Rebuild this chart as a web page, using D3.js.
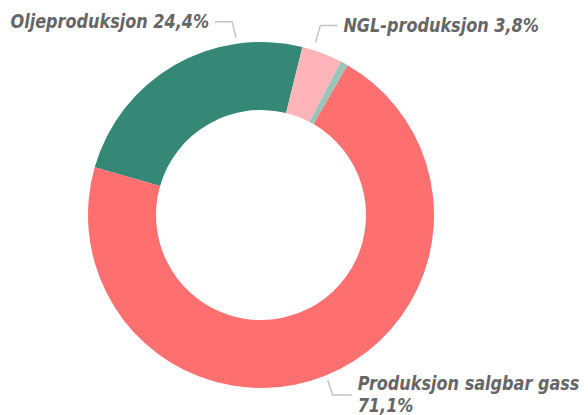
<!DOCTYPE html>
<html>
<head>
<meta charset="utf-8">
<script src="https://cdn.jsdelivr.net/npm/d3@7"></script>
<style>
  html, body { margin: 0; padding: 0; background: #fff; }
  .etikett { font-family: "DejaVu Sans Condensed", "DejaVu Sans", sans-serif; font-weight: bold; font-style: italic; font-size: 19px; fill: #666666; }
</style>
</head>
<body>
<div id="Grafica1"></div>
<script>
// data
const kategorier = ["Oljeproduksjon", "NGL-produksjon", "Kondensat", "Produksjon salgbar gass"];
const andeler = [24.4, 3.8, 0.7, 71.1];
const etiketter = ["Oljeproduksjon 24,4%", "NGL-produksjon 3,8%", "", "Produksjon salgbar gass|71,1%"];
const farger = ["#348875", "#ffb4b9", "#98c4ba", "#fe7070"];

const W = 588, H = 415;
const cx = 261, cy = 215;
const rYtre = 173, rIndre = 105;
const start = -74 * Math.PI / 180;
const smal = 0.94; // fonten i originalen er smalere

const data = kategorier.map((k, i) => ({ navn: k, verdi: andeler[i], tekst: etiketter[i], farge: farger[i] }));

const svg = d3.select("#Grafica1").append("svg")
  .attr("width", W).attr("height", H);

const g = svg.append("g").attr("transform", `translate(${cx},${cy})`);

const pie = d3.pie().sort(null).value(d => d.verdi)
  .startAngle(start).endAngle(start + 2 * Math.PI);
const arc = d3.arc().innerRadius(rIndre).outerRadius(rYtre);

const buer = pie(data);

g.selectAll("path").data(buer).enter().append("path")
  .attr("d", arc)
  .attr("fill", d => d.data.farge);

// plassering av etiketter (vinkel i grader, retning)
const oppsett = {
  "Oljeproduksjon": { vinkel: -8, r: 179, dx: -4, dy: -16, len: 17, side: -1 },
  "NGL-produksjon": { vinkel: 17.5, r: 181, dx: 5, dy: -17, len: 17, side: 1 },
  "Produksjon salgbar gass": { vinkel: 158, r: 178, dx: 5, dy: 15, len: 19, side: 1 }
};

buer.filter(d => d.data.tekst !== "").forEach(d => {
  const o = oppsett[d.data.navn];
  const p0 = d3.pointRadial(o.vinkel * Math.PI / 180, o.r);
  const p1 = [p0[0] + o.dx, p0[1] + o.dy];
  const p2 = [p1[0] + o.side * o.len, p1[1]];
  g.append("polyline")
    .attr("points", [p0, p1, p2].map(p => p.join(",")).join(" "))
    .attr("fill", "none")
    .attr("stroke", "#c4c4c4")
    .attr("stroke-width", 1.5);

  const linjer = d.data.tekst.split("|");
  linjer.forEach((l, i) => {
    const t = g.append("text")
      .attr("class", "etikett")
      .attr("text-anchor", o.side < 0 ? "end" : "start")
      .attr("x", p2[0] + o.side * 6)
      .attr("y", p2[1] - (linjer.length - 1) * 11.5 + 6.5 + i * 22)
      .text(l);
    const b = t.node().getComputedTextLength();
    t.attr("textLength", b * smal).attr("lengthAdjust", "spacingAndGlyphs");
  });
});
</script>
</body>
</html>
